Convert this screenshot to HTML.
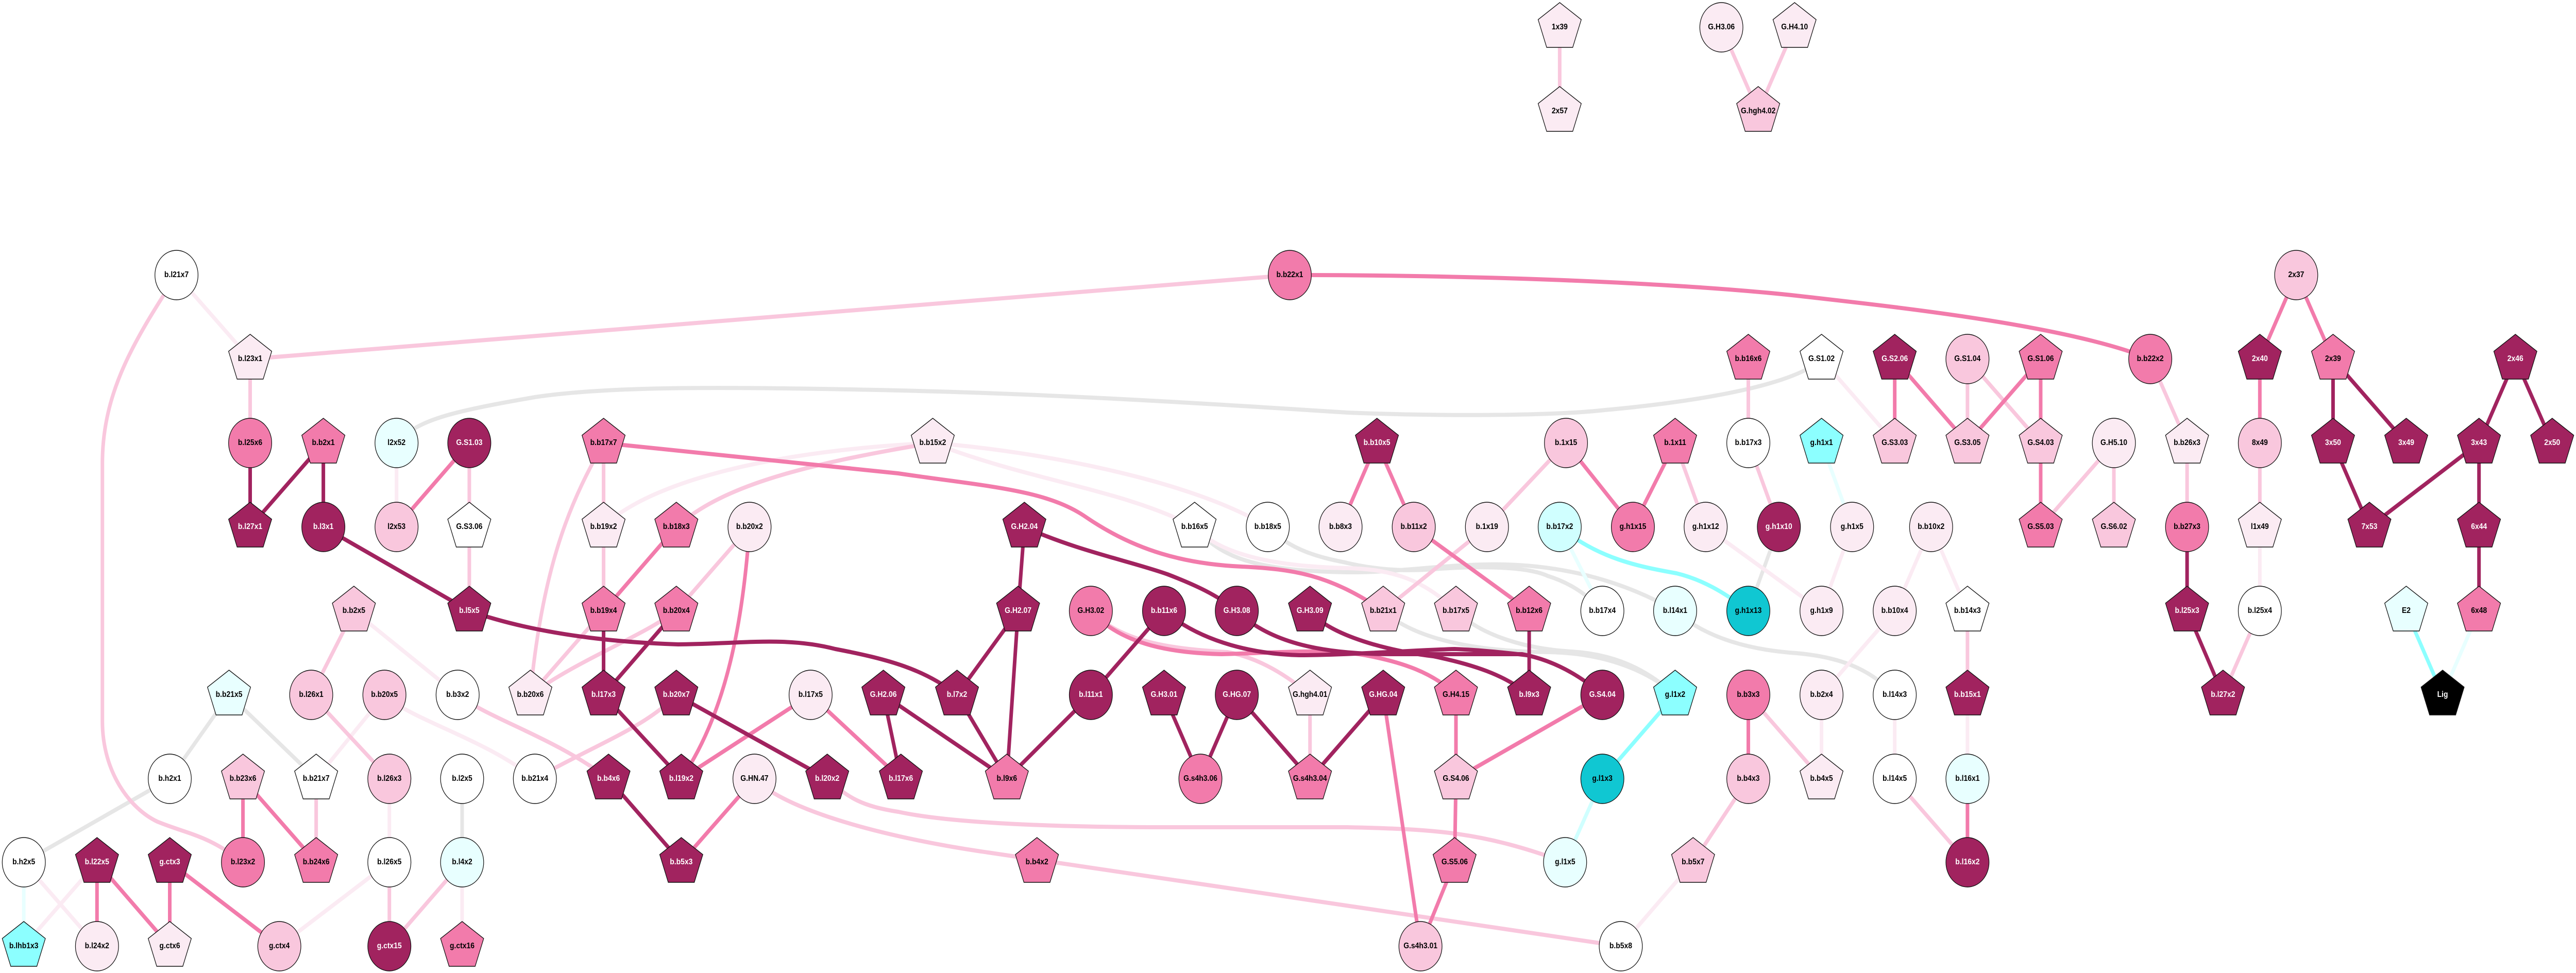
<!DOCTYPE html>
<html><head><meta charset="utf-8"><style>
html,body{margin:0;padding:0;background:#fff;width:100%;height:100%;overflow:hidden}
svg{display:block;width:100vw;height:100vh}
text{font:bold 16px "Liberation Sans",sans-serif;text-anchor:middle;fill:#000}
.n *{stroke:#111;stroke-width:1.4}
.e path{fill:none;stroke-width:8}
.D{fill:#a1235f}.P{fill:#f27bab}.L{fill:#f9c7dd}.V{fill:#fbebf3}.W{fill:#fff}.C{fill:#8cffff}.A{fill:#e8ffff}.B{fill:#d0ffff}.T{fill:#10c7d2}.K{fill:#000}
text.w{fill:#fff}
</style></head><body>
<svg xmlns="http://www.w3.org/2000/svg" viewBox="0 0 5736 1889" preserveAspectRatio="none">
<defs><polygon id="p" points="0,-48 48,-15 29,39 -29,39 -48,-15"/><circle id="c" r="48"/></defs>
<rect width="5736" height="1889" fill="#fff"/>
<g class="e">
<path stroke="#e6e6e6" d="M883 860C930 815 1000 800 1191 771C1350 750 1600 750 2000 758S2800 790 3000 801C3200 808 3450 808 3574 796C3800 778 4000 745 4056 697M510 1349L378 1512M510 1349L704 1512M378 1512L53 1674M1029 1512V1674M2823 1023C2880 1075 2960 1085 3000 1093C3060 1105 3120 1110 3191 1105C3300 1098 3400 1100 3446 1118C3490 1130 3530 1150 3568 1186M2660 1023C2720 1085 2800 1108 3000 1111C3100 1112 3200 1098 3300 1096C3450 1092 3600 1120 3730 1186M3730 1186C3800 1240 3900 1262 4000 1268C4090 1275 4160 1295 4219 1349M3080 1186C3150 1240 3280 1265 3450 1266C3560 1268 3660 1295 3730 1349M3242 1186C3300 1235 3400 1260 3500 1265C3590 1270 3660 1295 3730 1349M3961 1023L3893 1186"/>
<path stroke="#fbebf3" d="M393 534L557 697M883 860V1023M788 1186L1019 1349M856 1349L704 1512M867 1512V1674M216 1674L53 1837M53 1674L216 1837M867 1674L622 1837M1029 1674V1837M856 1349C920 1400 1070 1430 1191 1512M1344 1023C1400 970 1600 880 2077 860M2077 860C2300 875 2650 930 2823 1023M2077 860C2300 935 2500 950 2660 1023M2660 1023C2720 1080 2850 1100 3000 1103C3100 1105 3170 1125 3242 1186M3798 1023L4056 1186M3770 1674L3609 1837M4056 697L4219 860M4124 1023L4056 1186M4300 1023L4219 1186M4300 1023L4381 1186M4219 1186L4056 1349M5032 1023V1186M4219 1349V1512M4056 1349V1512M4381 1512V1349"/>
<path stroke="#e8ffff" d="M53 1674V1837M3473 1023L3568 1186M4056 860L4124 1023M5520 1186L5439 1349"/>
<path stroke="#d0ffff" d="M3568 1512L3485 1674"/>
<path stroke="#8cffff" d="M3473 1023C3560 1085 3650 1100 3733 1113C3790 1125 3840 1150 3893 1186M3730 1349L3568 1512M5358 1186L5439 1349"/>
<path stroke="#f9c7dd" d="M393 534C300 660 228 760 228 900L228 1400C228 1500 290 1570 350 1595C420 1620 460 1620 541 1674M557 697L2872 534M557 697V860M1045 860V1023M1045 1023V1186M1344 860C1280 960 1210 1080 1181 1348M1344 860V1023M1344 1023V1186M1344 1186L1181 1349M1669 1023L1506 1186M1506 1186C1420 1240 1290 1280 1181 1349M1506 1349C1440 1410 1340 1440 1191 1512M1019 1349C1100 1400 1230 1430 1355 1512M788 1186L693 1349M693 1349L867 1512M704 1512V1674M867 1674V1837M1029 1674L867 1837M1506 1023C1600 950 1760 905 2077 860M1680 1512C1760 1580 2000 1630 2200 1655L3609 1837M1842 1512C1890 1550 1920 1565 2000 1576C2100 1595 2300 1606 2600 1606L3000 1606C3200 1610 3300 1615 3485 1674M2429 1186C2500 1250 2620 1260 2733 1266C2790 1275 2850 1300 2917 1349M2917 1349V1512M3487 860L3311 1023M3311 1023L3080 1186M3730 860L3798 1023M3893 697V860M3893 860L3961 1023M3893 1349L4056 1512M3893 1512L3770 1674M4381 697V860M4381 697L4544 860M4707 860L4544 1023M4707 860V1023M4788 697L4870 860M4870 860V1023M5032 860V1023M5032 1186L4950 1349M4381 1186V1349M4219 1512L4381 1674M3833 53L3915 216M3996 53L3915 216M3473 53V216"/>
<path stroke="#f27bab" d="M2872 534C3400 534 3800 555 4000 574C4200 594 4600 630 4788 697M1045 860L883 1023M1506 1023L1344 1186M1669 1023C1655 1200 1620 1380 1517 1512M541 1512V1674M541 1512L704 1674M216 1674V1837M216 1674L378 1837M378 1674V1837M378 1674L622 1837M1680 1512L1517 1674M1805 1349L1517 1512M1805 1349L2006 1512M1344 860L2000 919C2200 945 2330 950 2420 1005C2530 1070 2640 1095 2765 1100C2880 1105 2960 1115 3080 1186M2429 1186C2500 1255 2620 1268 2720 1270C2830 1268 2950 1258 3040 1272C3120 1285 3190 1305 3242 1349M3066 860L2985 1023M3066 860L3148 1023M3148 1023L3405 1186M3487 860L3636 1023M3730 860L3636 1023M3568 1349L3242 1512M3242 1349V1512M3242 1512L3239 1674M3239 1674L3163 1837M3080 1349L3163 1837M3893 1349V1512M4219 697L4219 860M4219 697L4381 860M4544 697L4381 860M4544 697V860M4544 860V1023M5113 534L5032 697M5113 534L5195 697M5032 697V860M4381 1674V1512"/>
<path stroke="#a1235f" d="M720 860L557 1023M557 860V1023M720 860V1023M720 1023L1045 1186M1045 1186C1150 1218 1300 1245 1510 1251C1650 1250 1750 1235 1860 1260C1980 1280 2060 1300 2131 1349M1344 1186V1349M1506 1186L1344 1349M1344 1349L1517 1512M1506 1349L1842 1512M1355 1512L1517 1674M1967 1349L2006 1512M1967 1349L2242 1512M2131 1349L2242 1512M2267 1186L2131 1349M2267 1186L2242 1512M2281 1023L2267 1186M2592 1186L2429 1349M2429 1349L2242 1512M2281 1023C2400 1070 2520 1090 2600 1115C2660 1135 2710 1155 2754 1186M2917 1186C2960 1235 3100 1265 3191 1274C3280 1290 3350 1310 3405 1349M2754 1186C2830 1250 2950 1270 3100 1270L3389 1270C3450 1280 3510 1305 3568 1349M2592 1186C2680 1250 2800 1270 2893 1272C3000 1272 3150 1262 3239 1260C3300 1262 3360 1268 3400 1272M3405 1186V1349M2592 1349L2673 1512M2754 1349L2673 1512M2754 1349L2917 1512M3080 1349L2917 1512M4870 1023V1186M4870 1186L4950 1349M5195 697V860M5195 697L5358 860M5195 860L5276 1023M5520 860L5276 1023M5601 697L5520 860M5601 697L5683 860M5520 860V1186"/>
</g>
<g class="n">
<use href="#c" x="393" y="534" class="W"/><use href="#p" x="557" y="697" class="V"/><use href="#c" x="557" y="860" class="P"/><use href="#p" x="720" y="860" class="P"/><use href="#c" x="883" y="860" class="A"/><use href="#p" x="557" y="1023" class="D"/><use href="#c" x="720" y="1023" class="D"/><use href="#c" x="883" y="1023" class="L"/><use href="#c" x="1045" y="860" class="D"/><use href="#p" x="1045" y="1023" class="W"/><use href="#p" x="1045" y="1186" class="D"/>
<use href="#p" x="1344" y="860" class="P"/><use href="#p" x="1344" y="1023" class="V"/><use href="#p" x="1506" y="1023" class="P"/><use href="#c" x="1669" y="1023" class="V"/><use href="#p" x="1344" y="1186" class="P"/><use href="#p" x="1506" y="1186" class="P"/><use href="#p" x="788" y="1186" class="L"/>
<use href="#p" x="510" y="1349" class="A"/><use href="#c" x="693" y="1349" class="L"/><use href="#c" x="856" y="1349" class="L"/><use href="#c" x="1019" y="1349" class="W"/><use href="#p" x="1181" y="1349" class="V"/><use href="#p" x="1344" y="1349" class="D"/><use href="#p" x="1506" y="1349" class="D"/><use href="#c" x="1805" y="1349" class="V"/><use href="#p" x="1967" y="1349" class="D"/><use href="#p" x="2131" y="1349" class="D"/>
<use href="#p" x="2077" y="860" class="V"/><use href="#p" x="2281" y="1023" class="D"/><use href="#p" x="2660" y="1023" class="W"/><use href="#c" x="2823" y="1023" class="W"/><use href="#c" x="2985" y="1023" class="V"/><use href="#p" x="2267" y="1186" class="D"/><use href="#c" x="2429" y="1186" class="P"/><use href="#c" x="2592" y="1186" class="D"/><use href="#c" x="2754" y="1186" class="D"/><use href="#p" x="2917" y="1186" class="D"/>
<use href="#c" x="2872" y="534" class="P"/>
<use href="#p" x="3066" y="860" class="D"/><use href="#c" x="3487" y="860" class="L"/><use href="#p" x="3730" y="860" class="P"/><use href="#c" x="3893" y="860" class="W"/><use href="#p" x="3893" y="697" class="P"/>
<use href="#c" x="3148" y="1023" class="L"/><use href="#c" x="3311" y="1023" class="V"/><use href="#c" x="3473" y="1023" class="B"/><use href="#c" x="3636" y="1023" class="P"/><use href="#c" x="3798" y="1023" class="V"/><use href="#c" x="3961" y="1023" class="D"/>
<use href="#p" x="3080" y="1186" class="L"/><use href="#p" x="3242" y="1186" class="L"/><use href="#p" x="3405" y="1186" class="P"/><use href="#c" x="3568" y="1186" class="W"/><use href="#c" x="3730" y="1186" class="A"/><use href="#c" x="3893" y="1186" class="T"/>
<use href="#p" x="3080" y="1349" class="D"/><use href="#p" x="3242" y="1349" class="P"/><use href="#p" x="3405" y="1349" class="D"/><use href="#c" x="3568" y="1349" class="D"/><use href="#p" x="3730" y="1349" class="C"/><use href="#c" x="3893" y="1349" class="P"/>
<use href="#p" x="3242" y="1512" class="L"/><use href="#c" x="3568" y="1512" class="T"/><use href="#c" x="3893" y="1512" class="L"/><use href="#p" x="3239" y="1674" class="P"/><use href="#c" x="3485" y="1674" class="A"/><use href="#p" x="3770" y="1674" class="L"/><use href="#c" x="3163" y="1837" class="L"/><use href="#c" x="3609" y="1837" class="W"/>
<use href="#c" x="2429" y="1349" class="D"/><use href="#p" x="2592" y="1349" class="D"/><use href="#c" x="2754" y="1349" class="D"/><use href="#p" x="2917" y="1349" class="V"/><use href="#p" x="2242" y="1512" class="P"/><use href="#c" x="2673" y="1512" class="P"/><use href="#p" x="2917" y="1512" class="P"/><use href="#p" x="2006" y="1512" class="D"/><use href="#p" x="2309" y="1674" class="P"/>
<use href="#c" x="1029" y="1512" class="W"/><use href="#c" x="1191" y="1512" class="W"/><use href="#p" x="1355" y="1512" class="D"/><use href="#p" x="1517" y="1512" class="D"/><use href="#c" x="1680" y="1512" class="V"/><use href="#p" x="1842" y="1512" class="D"/><use href="#c" x="1029" y="1674" class="A"/><use href="#p" x="1517" y="1674" class="D"/><use href="#p" x="1029" y="1837" class="P"/>
<use href="#c" x="378" y="1512" class="W"/><use href="#p" x="541" y="1512" class="L"/><use href="#p" x="704" y="1512" class="W"/><use href="#c" x="867" y="1512" class="L"/>
<use href="#c" x="53" y="1674" class="W"/><use href="#p" x="216" y="1674" class="D"/><use href="#p" x="378" y="1674" class="D"/><use href="#c" x="541" y="1674" class="P"/><use href="#p" x="704" y="1674" class="P"/><use href="#c" x="867" y="1674" class="W"/>
<use href="#p" x="53" y="1837" class="C"/><use href="#c" x="216" y="1837" class="V"/><use href="#p" x="378" y="1837" class="V"/><use href="#c" x="622" y="1837" class="L"/><use href="#c" x="867" y="1837" class="D"/>
<use href="#p" x="4056" y="697" class="W"/><use href="#p" x="4219" y="697" class="D"/><use href="#c" x="4381" y="697" class="L"/><use href="#p" x="4544" y="697" class="P"/><use href="#c" x="4788" y="697" class="P"/>
<use href="#p" x="4056" y="860" class="C"/><use href="#p" x="4219" y="860" class="L"/><use href="#p" x="4381" y="860" class="L"/><use href="#p" x="4544" y="860" class="L"/><use href="#c" x="4707" y="860" class="V"/><use href="#p" x="4870" y="860" class="V"/>
<use href="#c" x="4124" y="1023" class="V"/><use href="#c" x="4300" y="1023" class="V"/><use href="#p" x="4544" y="1023" class="P"/><use href="#p" x="4707" y="1023" class="L"/><use href="#c" x="4870" y="1023" class="P"/>
<use href="#c" x="4056" y="1186" class="V"/><use href="#c" x="4219" y="1186" class="V"/><use href="#p" x="4381" y="1186" class="W"/><use href="#p" x="4870" y="1186" class="D"/>
<use href="#c" x="4056" y="1349" class="V"/><use href="#c" x="4219" y="1349" class="W"/><use href="#p" x="4381" y="1349" class="D"/><use href="#p" x="4056" y="1512" class="V"/><use href="#c" x="4219" y="1512" class="W"/><use href="#c" x="4381" y="1512" class="A"/><use href="#c" x="4381" y="1674" class="D"/>
<use href="#c" x="5113" y="534" class="L"/><use href="#p" x="5032" y="697" class="D"/><use href="#p" x="5195" y="697" class="P"/><use href="#p" x="5601" y="697" class="D"/><use href="#c" x="5032" y="860" class="L"/><use href="#p" x="5195" y="860" class="D"/><use href="#p" x="5358" y="860" class="D"/><use href="#p" x="5520" y="860" class="D"/><use href="#p" x="5683" y="860" class="D"/>
<use href="#p" x="5032" y="1023" class="V"/><use href="#p" x="5276" y="1023" class="D"/><use href="#p" x="5520" y="1023" class="D"/><use href="#c" x="5032" y="1186" class="W"/><use href="#p" x="5358" y="1186" class="A"/><use href="#p" x="5520" y="1186" class="P"/><use href="#p" x="4950" y="1349" class="D"/><use href="#p" x="5439" y="1349" class="K"/>
<use href="#p" x="3473" y="53" class="V"/><use href="#p" x="3473" y="216" class="V"/><use href="#c" x="3833" y="53" class="V"/><use href="#p" x="3996" y="53" class="V"/><use href="#p" x="3915" y="216" class="L"/>
</g>
<g>
<text x="393" y="538">b.l21x7</text><text x="557" y="701">b.l23x1</text><text x="557" y="864">b.l25x6</text><text x="720" y="864">b.b2x1</text><text x="883" y="864">l2x52</text><text x="557" y="1027" class="w">b.l27x1</text><text x="720" y="1027" class="w">b.l3x1</text><text x="883" y="1027">l2x53</text><text x="1045" y="864" class="w">G.S1.03</text><text x="1045" y="1027">G.S3.06</text><text x="1045" y="1190" class="w">b.l5x5</text>
<text x="1344" y="864">b.b17x7</text><text x="1344" y="1027">b.b19x2</text><text x="1506" y="1027">b.b18x3</text><text x="1669" y="1027">b.b20x2</text><text x="1344" y="1190">b.b19x4</text><text x="1506" y="1190">b.b20x4</text><text x="788" y="1190">b.b2x5</text>
<text x="510" y="1353">b.b21x5</text><text x="693" y="1353">b.l26x1</text><text x="856" y="1353">b.b20x5</text><text x="1019" y="1353">b.b3x2</text><text x="1181" y="1353">b.b20x6</text><text x="1344" y="1353" class="w">b.l17x3</text><text x="1506" y="1353" class="w">b.b20x7</text><text x="1805" y="1353">b.l17x5</text><text x="1967" y="1353" class="w">G.H2.06</text><text x="2131" y="1353" class="w">b.l7x2</text>
<text x="2077" y="864">b.b15x2</text><text x="2281" y="1027" class="w">G.H2.04</text><text x="2660" y="1027">b.b16x5</text><text x="2823" y="1027">b.b18x5</text><text x="2985" y="1027">b.b8x3</text><text x="2267" y="1190" class="w">G.H2.07</text><text x="2429" y="1190">G.H3.02</text><text x="2592" y="1190" class="w">b.b11x6</text><text x="2754" y="1190" class="w">G.H3.08</text><text x="2917" y="1190" class="w">G.H3.09</text>
<text x="2872" y="538">b.b22x1</text>
<text x="3066" y="864" class="w">b.b10x5</text><text x="3487" y="864">b.1x15</text><text x="3730" y="864">b.1x11</text><text x="3893" y="864">b.b17x3</text><text x="3893" y="701">b.b16x6</text>
<text x="3148" y="1027">b.b11x2</text><text x="3311" y="1027">b.1x19</text><text x="3473" y="1027">b.b17x2</text><text x="3636" y="1027">g.h1x15</text><text x="3798" y="1027">g.h1x12</text><text x="3961" y="1027" class="w">g.h1x10</text>
<text x="3080" y="1190">b.b21x1</text><text x="3242" y="1190">b.b17x5</text><text x="3405" y="1190">b.b12x6</text><text x="3568" y="1190">b.b17x4</text><text x="3730" y="1190">b.l14x1</text><text x="3893" y="1190">g.h1x13</text>
<text x="3080" y="1353" class="w">G.HG.04</text><text x="3242" y="1353">G.H4.15</text><text x="3405" y="1353" class="w">b.l9x3</text><text x="3568" y="1353" class="w">G.S4.04</text><text x="3730" y="1353">g.l1x2</text><text x="3893" y="1353">b.b3x3</text>
<text x="3242" y="1516">G.S4.06</text><text x="3568" y="1516">g.l1x3</text><text x="3893" y="1516">b.b4x3</text><text x="3239" y="1678">G.S5.06</text><text x="3485" y="1678">g.l1x5</text><text x="3770" y="1678">b.b5x7</text><text x="3163" y="1841">G.s4h3.01</text><text x="3609" y="1841">b.b5x8</text>
<text x="2429" y="1353" class="w">b.l11x1</text><text x="2592" y="1353" class="w">G.H3.01</text><text x="2754" y="1353" class="w">G.HG.07</text><text x="2917" y="1353">G.hgh4.01</text><text x="2242" y="1516">b.l9x6</text><text x="2673" y="1516">G.s4h3.06</text><text x="2917" y="1516">G.s4h3.04</text><text x="2006" y="1516" class="w">b.l17x6</text><text x="2309" y="1678">b.b4x2</text>
<text x="1029" y="1516">b.l2x5</text><text x="1191" y="1516">b.b21x4</text><text x="1355" y="1516" class="w">b.b4x6</text><text x="1517" y="1516" class="w">b.l19x2</text><text x="1680" y="1516">G.HN.47</text><text x="1842" y="1516" class="w">b.l20x2</text><text x="1029" y="1678">b.l4x2</text><text x="1517" y="1678" class="w">b.b5x3</text><text x="1029" y="1841">g.ctx16</text>
<text x="378" y="1516">b.h2x1</text><text x="541" y="1516">b.b23x6</text><text x="704" y="1516">b.b21x7</text><text x="867" y="1516">b.l26x3</text>
<text x="53" y="1678">b.h2x5</text><text x="216" y="1678" class="w">b.l22x5</text><text x="378" y="1678" class="w">g.ctx3</text><text x="541" y="1678">b.l23x2</text><text x="704" y="1678">b.b24x6</text><text x="867" y="1678">b.l26x5</text>
<text x="53" y="1841">b.lhb1x3</text><text x="216" y="1841">b.l24x2</text><text x="378" y="1841">g.ctx6</text><text x="622" y="1841">g.ctx4</text><text x="867" y="1841" class="w">g.ctx15</text>
<text x="4056" y="701">G.S1.02</text><text x="4219" y="701" class="w">G.S2.06</text><text x="4381" y="701">G.S1.04</text><text x="4544" y="701">G.S1.06</text><text x="4788" y="701">b.b22x2</text>
<text x="4056" y="864">g.h1x1</text><text x="4219" y="864">G.S3.03</text><text x="4381" y="864">G.S3.05</text><text x="4544" y="864">G.S4.03</text><text x="4707" y="864">G.H5.10</text><text x="4870" y="864">b.b26x3</text>
<text x="4124" y="1027">g.h1x5</text><text x="4300" y="1027">b.b10x2</text><text x="4544" y="1027">G.S5.03</text><text x="4707" y="1027">G.S6.02</text><text x="4870" y="1027">b.b27x3</text>
<text x="4056" y="1190">g.h1x9</text><text x="4219" y="1190">b.b10x4</text><text x="4381" y="1190">b.b14x3</text><text x="4870" y="1190" class="w">b.l25x3</text>
<text x="4056" y="1353">b.b2x4</text><text x="4219" y="1353">b.l14x3</text><text x="4381" y="1353" class="w">b.b15x1</text><text x="4056" y="1516">b.b4x5</text><text x="4219" y="1516">b.l14x5</text><text x="4381" y="1516">b.l16x1</text><text x="4381" y="1678" class="w">b.l16x2</text>
<text x="5113" y="538">2x37</text><text x="5032" y="701" class="w">2x40</text><text x="5195" y="701">2x39</text><text x="5601" y="701" class="w">2x46</text><text x="5032" y="864">8x49</text><text x="5195" y="864" class="w">3x50</text><text x="5358" y="864" class="w">3x49</text><text x="5520" y="864" class="w">3x43</text><text x="5683" y="864" class="w">2x50</text>
<text x="5032" y="1027">l1x49</text><text x="5276" y="1027" class="w">7x53</text><text x="5520" y="1027" class="w">6x44</text><text x="5032" y="1190">b.l25x4</text><text x="5358" y="1190">E2</text><text x="5520" y="1190">6x48</text><text x="4950" y="1353" class="w">b.l27x2</text><text x="5439" y="1353" class="w">Lig</text>
<text x="3473" y="57">1x39</text><text x="3473" y="220">2x57</text><text x="3833" y="57">G.H3.06</text><text x="3996" y="57">G.H4.10</text><text x="3915" y="220">G.hgh4.02</text>
</g>
</svg>
</body></html>
